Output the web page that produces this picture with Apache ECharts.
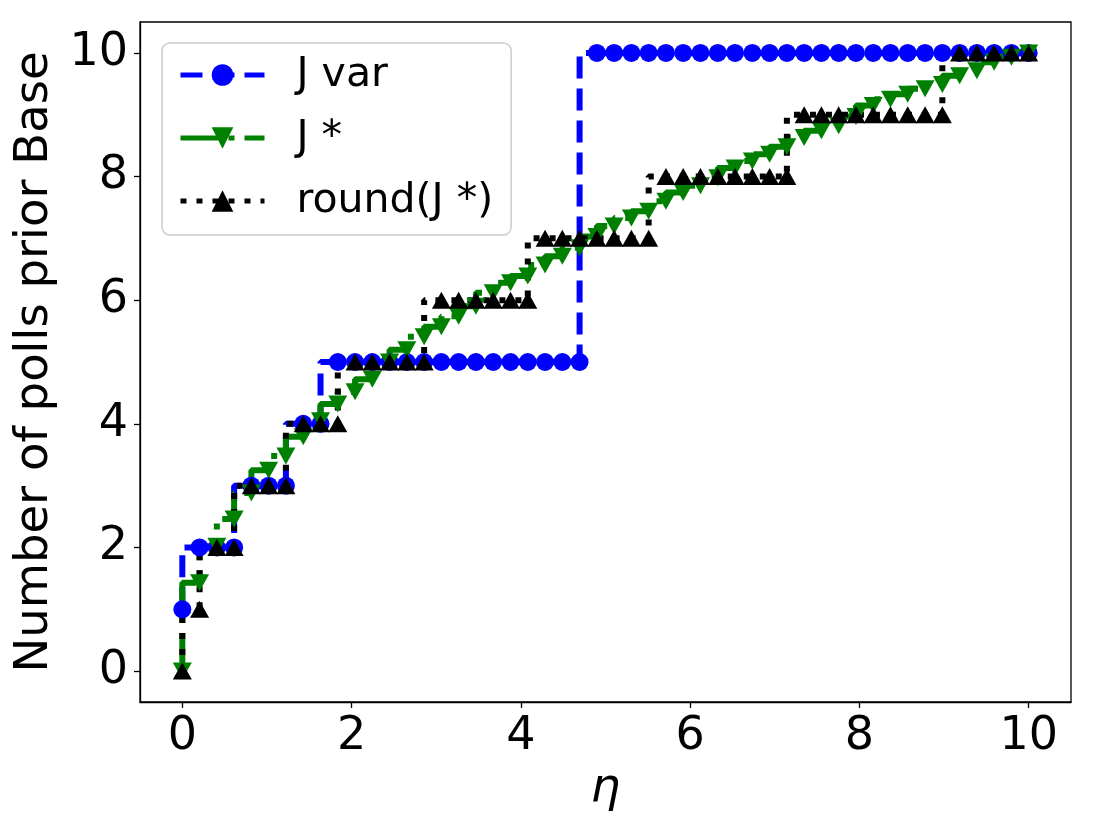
<!DOCTYPE html>
<html>
<head>
<meta charset="utf-8">
<title>polls prior base</title>
<script src="https://cdn.jsdelivr.net/npm/echarts@6/dist/echarts.min.js"></script>
<style>
  html, body { margin: 0; padding: 0; background: #fff; }
  #chart { width: 1093px; height: 829px; }
</style>
</head>
<body>
<div id="chart"></div>
<script>
// eta values (50 evenly spaced points from 0 to 10)
const etas = [0, 0.204, 0.408, 0.612, 0.816, 1.020, 1.224, 1.429, 1.633, 1.837,
  2.041, 2.245, 2.449, 2.653, 2.857, 3.061, 3.265, 3.469, 3.673, 3.878,
  4.082, 4.286, 4.490, 4.694, 4.898, 5.102, 5.306, 5.510, 5.714, 5.918,
  6.122, 6.327, 6.531, 6.735, 6.939, 7.143, 7.347, 7.551, 7.755, 7.959,
  8.163, 8.367, 8.571, 8.776, 8.980, 9.184, 9.388, 9.592, 9.796, 10];

const jVar = [1, 2, 2, 2, 3, 3, 3, 4, 4, 5,
  5, 5, 5, 5, 5, 5, 5, 5, 5, 5,
  5, 5, 5, 5, 10, 10, 10, 10, 10, 10,
  10, 10, 10, 10, 10, 10, 10, 10, 10, 10,
  10, 10, 10, 10, 10, 10, 10, 10, 10, 10];

const jStar = [0, 1.43, 2.02, 2.46, 2.88, 3.25, 3.48, 3.79, 4.05, 4.32,
  4.52, 4.72, 5.0, 5.2, 5.41, 5.57, 5.74, 5.9, 6.12, 6.28,
  6.39, 6.57, 6.71, 6.85, 7.03, 7.2, 7.33, 7.44, 7.6, 7.74,
  7.85, 7.98, 8.14, 8.25, 8.36, 8.48, 8.63, 8.74, 8.82, 8.97,
  9.15, 9.25, 9.33, 9.42, 9.49, 9.63, 9.71, 9.85, 9.93, 10.0];

const jStarRound = [0, 1, 2, 2, 3, 3, 3, 4, 4, 4,
  5, 5, 5, 5, 5, 6, 6, 6, 6, 6,
  6, 7, 7, 7, 7, 7, 7, 7, 8, 8,
  8, 8, 8, 8, 8, 8, 9, 9, 9, 9,
  9, 9, 9, 9, 9, 10, 10, 10, 10, 10];

const xTicks = [0, 2, 4, 6, 8, 10];
const yTicks = [0, 2, 4, 6, 8, 10];

const FONT = 'DejaVu Sans';

function pairs(ys) {
  return etas.map((x, i) => [x, ys[i]]);
}

const chart = echarts.init(document.getElementById('chart'), null, { renderer: 'canvas' });

const axisCommon = {
  type: 'value',
  min: -0.5,
  max: 10.5,
  splitLine: { show: false },
  // keep the axis lines on the frame, not at zero
  axisLine: { show: true, onZero: false, lineStyle: { color: '#000', width: 1.3 } },
  axisTick: { show: true, inside: false, length: 6, lineStyle: { color: '#000', width: 1.3 } },
  nameTextStyle: { fontFamily: FONT, fontSize: 46.5, color: '#000' }
};

const tickFont = { fontFamily: FONT, fontSize: 46, color: '#000' };

chart.setOption({
  animation: false,
  backgroundColor: '#fff',
  grid: {
    left: 140, right: 22, top: 22, bottom: 127,
    show: true, borderColor: '#000', borderWidth: 1.3
  },
  legend: {
    left: 162,
    top: 43,
    orient: 'vertical',
    itemWidth: 84,
    itemHeight: 27,
    itemGap: 19,
    padding: [10, 18, 12, 16],
    borderColor: '#cccccc',
    borderWidth: 1.5,
    borderRadius: 8,
    backgroundColor: 'rgba(255,255,255,0.8)',
    lineStyle: { width: 5 },
    textStyle: { fontFamily: FONT, fontSize: 41, color: '#000', lineHeight: 44, padding: [0, 0, 0, 27] },
    data: ['J var', 'J *', 'round(J *)']
  },
  xAxis: Object.assign({}, axisCommon, {
    name: 'η',
    nameLocation: 'middle',
    nameGap: 55,
    nameTextStyle: { fontFamily: FONT, fontSize: 47, color: '#000', fontStyle: 'italic' },
    axisTick: Object.assign({}, axisCommon.axisTick, { customValues: xTicks }),
    axisLabel: Object.assign({ customValues: xTicks, margin: 12 }, tickFont)
  }),
  yAxis: Object.assign({}, axisCommon, {
    name: 'Number of polls prior Base',
    nameLocation: 'middle',
    nameRotate: 90,
    nameGap: 80,
    axisTick: Object.assign({}, axisCommon.axisTick, { customValues: yTicks }),
    axisLabel: Object.assign({ customValues: yTicks, margin: 12 }, tickFont)
  }),
  series: [
    {
      name: 'J var',
      type: 'line',
      step: 'start',
      data: pairs(jVar),
      showAllSymbol: true,
      symbol: 'circle',
      symbolSize: 18,
      itemStyle: { color: '#0000ff' },
      lineStyle: { color: '#0000ff', width: 6, type: [22, 10] }
    },
    {
      name: 'J *',
      type: 'line',
      step: 'start',
      data: pairs(jStar),
      showAllSymbol: true,
      symbol: 'triangle',
      symbolRotate: 180,
      symbolSize: [19, 17],
      itemStyle: { color: '#008000' },
      lineStyle: { color: '#008000', width: 6, type: [38, 10, 6, 10] }
    },
    {
      name: 'round(J *)',
      type: 'line',
      step: 'start',
      data: pairs(jStarRound),
      showAllSymbol: true,
      symbol: 'triangle',
      symbolSize: [19, 17],
      itemStyle: { color: '#000' },
      lineStyle: { color: '#000', width: 6, type: [6, 10] }
    }
  ]
});
</script>
</body>
</html>
